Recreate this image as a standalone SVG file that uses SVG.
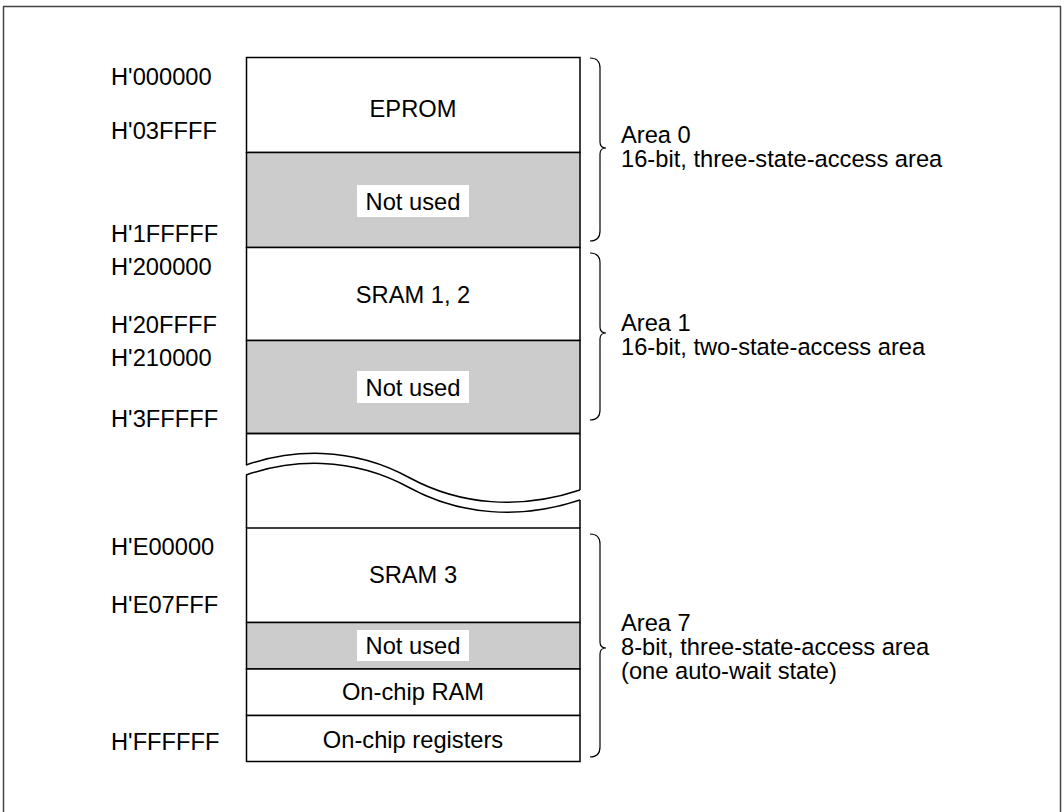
<svg xmlns="http://www.w3.org/2000/svg" width="1064" height="812" viewBox="0 0 1064 812">
<style>
text{font-family:"Liberation Sans",Arial,sans-serif;font-size:23.7px;fill:#000}
.c{text-anchor:middle}
.blk{fill:#fff;stroke:#000;stroke-width:1.5}
.nu{fill:#cccccc;stroke:#000;stroke-width:1.5}
.lab{fill:#fff;stroke:none}
.ln{fill:none;stroke:#000;stroke-width:1.5}
.br{fill:none;stroke:#000;stroke-width:1.2}
</style>
<rect x="0" y="0" width="1064" height="812" fill="#fff"/>
<rect x="3.5" y="6.5" width="1057" height="830" fill="none" stroke="#444" stroke-width="1.5"/>
<g id="addresses">
<text x="111" y="85">H'000000</text>
<text x="111" y="139">H'03FFFF</text>
<text x="111" y="242">H'1FFFFF</text>
<text x="111" y="275">H'200000</text>
<text x="111" y="333">H'20FFFF</text>
<text x="111" y="366">H'210000</text>
<text x="111" y="427">H'3FFFFF</text>
<text x="111" y="555">H'E00000</text>
<text x="111" y="613">H'E07FFF</text>
<text x="111" y="750">H'FFFFFF</text>
</g>
<g id="eprom"><rect class="blk" x="246.5" y="57.5" width="333.5" height="95"/><text class="c" x="413" y="117">EPROM</text></g>
<g id="notused0"><rect class="nu" x="246.5" y="152.5" width="333.5" height="95"/><rect class="lab" x="357" y="185" width="112" height="32"/><text class="c" x="413" y="210">Not used</text></g>
<g id="sram12"><rect class="blk" x="246.5" y="247.5" width="333.5" height="93"/><text class="c" x="413" y="303">SRAM 1, 2</text></g>
<g id="notused1"><rect class="nu" x="246.5" y="340.5" width="333.5" height="93"/><rect class="lab" x="357" y="371" width="112" height="32"/><text class="c" x="413" y="396">Not used</text></g>
<g id="gap">
<path class="ln" d="M246.5,433.5 H580 M246.5,433.5 V465 M580,433.5 V490 M246.5,475 V528 M580,500 V528"/>
<path class="ln" d="M246,465 C290,450 350,445 410,478 C460,505 520,510 580,490"/>
<path class="ln" d="M246,475 C290,460 350,455 410,488 C460,515 520,520 580,500"/>
</g>
<g id="sram3"><rect class="blk" x="246.5" y="528" width="333.5" height="94.5"/><text class="c" x="413" y="583">SRAM 3</text></g>
<g id="notused7"><rect class="nu" x="246.5" y="622.5" width="333.5" height="46.5"/><rect class="lab" x="357" y="630" width="112" height="31"/><text class="c" x="413" y="654">Not used</text></g>
<g id="ram"><rect class="blk" x="246.5" y="669" width="333.5" height="46.5"/><text class="c" x="413" y="700">On-chip RAM</text></g>
<g id="regs"><rect class="blk" x="246.5" y="715.5" width="333.5" height="46"/><text class="c" x="413" y="748">On-chip registers</text></g>
<g id="connectors">
<path class="br" d="M590,58 Q600,58 600,68 L600,142 Q600,148 606,148 Q600,148 600,154 L600,231 Q600,241 590,241"/>
<path class="br" d="M590,253 Q600,253 600,263 L600,327 Q600,333 606,333 Q600,333 600,339 L600,410 Q600,420 590,420"/>
<path class="br" d="M590,534 Q600,534 600,544 L600,642 Q600,648 606,648 Q600,648 600,654 L600,747 Q600,757 590,757"/>
</g>
<g id="area0"><text x="621" y="143">Area 0</text><text x="621" y="167">16-bit, three-state-access area</text></g>
<g id="area1"><text x="621" y="331">Area 1</text><text x="621" y="355">16-bit, two-state-access area</text></g>
<g id="area7"><text x="621" y="631">Area 7</text><text x="621" y="655">8-bit, three-state-access area</text><text x="621" y="679">(one auto-wait state)</text></g>
</svg>
